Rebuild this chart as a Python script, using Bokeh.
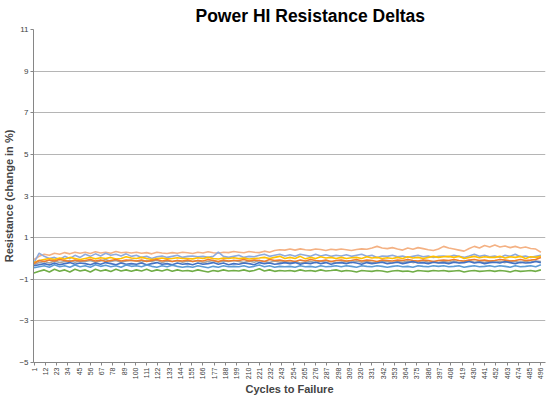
import math
from bokeh.plotting import figure
from bokeh.models import FixedTicker, Range1d
from bokeh.embed import file_html
from bokeh.resources import INLINE

title_text = "Power HI Resistance Deltas"
x_title = "Cycles to Failure"
y_title = "Resistance (change in %)"
cycles = list(range(1, 497, 5))
x_tick_labels = list(range(1, 497, 11))
y_ticks = [-5, -3, -1, 1, 3, 5, 7, 9, 11]

salmon = [-0.05, 0.1, 0.2, 0.15, 0.25, 0.2, 0.28, 0.22, 0.3, 0.25,
          0.3, 0.24, 0.32, 0.26, 0.3, 0.25, 0.33, 0.27, 0.3, 0.26,
          0.3, 0.25, 0.28, 0.22, 0.3, 0.26, 0.24, 0.28, 0.25, 0.3,
          0.27, 0.24, 0.3, 0.26, 0.32, 0.27, 0.25, 0.3, 0.28, 0.33,
          0.3, 0.27, 0.33, 0.3, 0.28, 0.35, 0.3, 0.38, 0.42, 0.4,
          0.45, 0.4, 0.46, 0.42, 0.4, 0.45, 0.43, 0.38, 0.44, 0.41,
          0.45, 0.42, 0.38, 0.43, 0.46, 0.44, 0.5, 0.58, 0.5, 0.47,
          0.52, 0.45, 0.4, 0.5, 0.44, 0.52, 0.47, 0.42, 0.38, 0.45,
          0.58, 0.5, 0.45, 0.4, 0.35, 0.48, 0.58, 0.5, 0.62, 0.55,
          0.65, 0.55, 0.6, 0.52, 0.58, 0.5, 0.55, 0.48, 0.45, 0.3]
periwinkle = [-0.2, 0.25, 0.1, 0.0, 0.05, -0.05, 0.1, 0.0, 0.15, 0.05,
              0.2, 0.1, 0.22, 0.12, 0.25, 0.15, 0.2, 0.12, 0.22, 0.1,
              0.15, 0.05, 0.1, 0.0, 0.08, 0.12, 0.05, 0.1, 0.15, 0.05,
              0.1, 0.12, 0.08, 0.1, 0.05, 0.1, 0.3, 0.1, 0.05, 0.1,
              0.15, 0.05, 0.1, 0.08, 0.15, 0.2, 0.1, 0.15, 0.2, 0.12,
              0.18, 0.1, 0.2, 0.15, 0.1, 0.2, 0.12, 0.18, 0.1, 0.15,
              0.12, 0.18, 0.1, 0.15, 0.2, 0.1, 0.15, 0.05, 0.12, 0.1,
              0.15, 0.08, 0.12, 0.05, 0.1, 0.15, 0.08, 0.12, 0.05, 0.1,
              0.12, 0.08, 0.15, 0.1, 0.05, 0.12, 0.2, 0.1, 0.15, 0.08,
              0.12, 0.05, 0.15, 0.1, 0.2, 0.08, 0.12, 0.05, 0.1, 0.15]
gold = [-0.2, -0.1, -0.05, 0.0, -0.05, 0.02, -0.03, 0.05, 0.0, -0.05,
        0.0, 0.05, -0.02, 0.03, 0.0, 0.05, -0.03, 0.0, 0.08, 0.02,
        0.0, 0.05, 0.0, -0.05, 0.0, 0.02, -0.02, 0.0, 0.03, 0.0,
        0.0, -0.02, 0.03, 0.0, 0.05, 0.0, -0.03, 0.02, 0.0, 0.03,
        0.0, 0.02, -0.03, 0.0, 0.02, 0.05, 0.0, 0.05, 0.1, 0.0,
        0.05, 0.0, 0.1, -0.02, 0.05, 0.0, 0.08, 0.02, 0.05, 0.0,
        0.05, 0.0, 0.03, 0.05, 0.0, 0.08, 0.02, 0.05, 0.0, 0.03,
        0.0, 0.05, 0.0, 0.08, 0.02, 0.05, 0.0, 0.05, 0.1, 0.05,
        0.08, 0.1, 0.05, 0.1, 0.0, 0.05, 0.1, 0.03, 0.08, 0.05,
        0.05, 0.1, 0.02, 0.08, 0.05, 0.1, 0.0, 0.08, 0.05, 0.1]
orange = [-0.25, -0.1, -0.15, -0.08, -0.12, -0.05, -0.1, -0.15, -0.08, -0.12,
          -0.1, -0.05, -0.12, -0.08, -0.15, -0.1, -0.05, -0.12, -0.08, -0.1,
          -0.12, -0.08, -0.15, -0.1, -0.05, -0.12, -0.08, -0.15, -0.1, -0.12,
          -0.08, -0.15, -0.1, -0.12, -0.05, -0.1, -0.15, -0.08, -0.12, -0.1,
          -0.1, -0.05, -0.12, -0.08, -0.1, -0.15, -0.05, -0.1, -0.08, -0.12,
          -0.1, -0.15, -0.08, -0.12, -0.05, -0.1, -0.12, -0.08, -0.15, -0.1,
          -0.08, -0.12, -0.1, -0.05, -0.12, -0.08, -0.1, -0.15, -0.08, -0.1,
          -0.12, -0.08, -0.1, -0.05, -0.1, -0.12, -0.08, -0.1, -0.15, -0.1,
          -0.08, -0.1, -0.05, -0.1, -0.12, -0.08, -0.05, -0.1, -0.08, -0.12,
          -0.1, -0.05, -0.08, -0.12, -0.1, -0.05, -0.1, -0.08, -0.05, 0.05]
gray = [-0.3, -0.2, -0.15, -0.22, -0.12, -0.2, -0.15, -0.1, -0.18, -0.12,
        -0.15, -0.1, -0.18, -0.12, -0.05, -0.15, -0.1, -0.18, -0.12, -0.08,
        -0.12, -0.18, -0.1, -0.15, -0.08, -0.2, -0.12, -0.15, -0.1, -0.18,
        -0.12, -0.15, -0.1, -0.2, -0.15, -0.1, -0.18, -0.12, -0.15, -0.1,
        -0.15, -0.2, -0.12, -0.18, -0.1, -0.15, -0.2, -0.12, -0.18, -0.15,
        -0.2, -0.15, -0.22, -0.18, -0.15, -0.2, -0.12, -0.18, -0.15, -0.2,
        -0.18, -0.15, -0.2, -0.12, -0.18, -0.15, -0.2, -0.18, -0.12, -0.15,
        -0.2, -0.15, -0.18, -0.12, -0.2, -0.15, -0.1, -0.18, -0.15, -0.2,
        -0.15, -0.18, -0.12, -0.2, -0.15, -0.1, -0.18, -0.15, -0.2, -0.12,
        -0.18, -0.15, -0.2, -0.12, -0.15, -0.2, -0.15, -0.18, -0.12, -0.15]
dark_blue = [-0.35, -0.3, -0.25, -0.32, -0.22, -0.3, -0.25, -0.2, -0.28, -0.22,
             -0.25, -0.3, -0.22, -0.28, -0.2, -0.25, -0.3, -0.22, -0.28, -0.25,
             -0.28, -0.22, -0.3, -0.25, -0.2, -0.28, -0.25, -0.3, -0.22, -0.28,
             -0.25, -0.3, -0.22, -0.28, -0.25, -0.2, -0.28, -0.22, -0.3, -0.25,
             -0.28, -0.22, -0.25, -0.3, -0.2, -0.25, -0.22, -0.28, -0.25, -0.2,
             -0.25, -0.2, -0.28, -0.22, -0.25, -0.18, -0.25, -0.2, -0.28, -0.22,
             -0.2, -0.25, -0.18, -0.22, -0.28, -0.2, -0.25, -0.22, -0.18, -0.25,
             -0.22, -0.18, -0.25, -0.2, -0.15, -0.22, -0.2, -0.25, -0.18, -0.22,
             -0.2, -0.25, -0.18, -0.22, -0.2, -0.15, -0.22, -0.18, -0.25, -0.2,
             -0.18, -0.22, -0.15, -0.2, -0.25, -0.18, -0.22, -0.2, -0.15, -0.2]
blue = [-0.45, -0.4, -0.35, -0.42, -0.3, -0.4, -0.35, -0.42, -0.32, -0.4,
        -0.35, -0.42, -0.3, -0.38, -0.33, -0.4, -0.35, -0.42, -0.32, -0.38,
        -0.35, -0.4, -0.32, -0.38, -0.42, -0.35, -0.4, -0.33, -0.38, -0.42,
        -0.38, -0.42, -0.35, -0.4, -0.45, -0.38, -0.42, -0.35, -0.4, -0.38,
        -0.4, -0.35, -0.42, -0.38, -0.32, -0.4, -0.35, -0.42, -0.38, -0.4,
        -0.38, -0.42, -0.35, -0.4, -0.38, -0.42, -0.35, -0.4, -0.38, -0.35,
        -0.4, -0.35, -0.38, -0.42, -0.35, -0.38, -0.4, -0.35, -0.38, -0.42,
        -0.38, -0.35, -0.4, -0.38, -0.42, -0.35, -0.38, -0.4, -0.35, -0.38,
        -0.35, -0.4, -0.38, -0.35, -0.42, -0.38, -0.35, -0.4, -0.38, -0.35,
        -0.4, -0.35, -0.38, -0.42, -0.35, -0.4, -0.38, -0.35, -0.4, -0.3]
green = [-0.7, -0.62, -0.55, -0.65, -0.52, -0.62, -0.55, -0.65, -0.52, -0.6,
         -0.55, -0.65, -0.52, -0.6, -0.55, -0.63, -0.52, -0.6, -0.55, -0.62,
         -0.55, -0.6, -0.52, -0.62, -0.55, -0.6, -0.53, -0.62, -0.55, -0.6,
         -0.58, -0.62, -0.55, -0.6, -0.65, -0.58, -0.62, -0.55, -0.6, -0.58,
         -0.6, -0.55, -0.62, -0.58, -0.5, -0.6, -0.55, -0.62, -0.58, -0.6,
         -0.58, -0.62, -0.55, -0.6, -0.58, -0.62, -0.55, -0.6, -0.58, -0.55,
         -0.62, -0.58, -0.6, -0.65, -0.58, -0.6, -0.62, -0.58, -0.6, -0.65,
         -0.6, -0.58, -0.62, -0.6, -0.65, -0.58, -0.6, -0.62, -0.58, -0.6,
         -0.58, -0.62, -0.6, -0.58, -0.65, -0.6, -0.58, -0.62, -0.6, -0.58,
         -0.62, -0.58, -0.6, -0.65, -0.58, -0.62, -0.6, -0.58, -0.62, -0.55]

series = [
    (salmon, "#F4B183"),
    (periwinkle, "#8FAADC"),
    (gray, "#A5A5A5"),
    (gold, "#FFC000"),
    (orange, "#ED7D31"),
    (dark_blue, "#4472C4"),
    (blue, "#5B9BD5"),
    (green, "#70AD47"),
]

FONT = "Liberation Sans"

p = figure(frame_width=512, frame_height=333, output_backend="svg", toolbar_location=None,
           x_range=Range1d(0.5, 500.5), y_range=Range1d(-5, 11),
           min_border_left=0, min_border_right=5, min_border_top=0, min_border_bottom=0)

p.title.text = title_text
p.title.text_font = FONT
p.title.text_font_size = "17.5px"
p.title.text_font_style = "bold"
p.title.align = "left"
p.title.offset = 162
p.title.standoff = 7
p.title.text_color = "#000000"

for vals, col in series:
    p.line(cycles, vals, line_color=col, line_width=1.6)

p.outline_line_color = None
p.xgrid.grid_line_color = None
p.ygrid.grid_line_color = "#B5B5B5"
p.ygrid.grid_line_width = 1
p.ygrid.ticker = FixedTicker(ticks=y_ticks)

p.yaxis.ticker = FixedTicker(ticks=y_ticks)
p.yaxis.axis_label = y_title
p.yaxis.axis_label_text_font = FONT
p.yaxis.axis_label_text_font_size = "11px"
p.yaxis.axis_label_text_font_style = "bold"
p.yaxis.axis_label_standoff = 1
p.yaxis.major_label_text_font = FONT
p.yaxis.major_label_text_font_size = "8px"
p.yaxis.major_label_text_color = "#404040"
p.yaxis.axis_line_color = "#868686"
p.yaxis.major_tick_line_color = "#868686"
p.yaxis.major_tick_out = 3
p.yaxis.major_tick_in = 0
p.yaxis.minor_tick_line_color = None
p.yaxis.major_label_standoff = 2

p.xaxis.ticker = FixedTicker(ticks=x_tick_labels)
p.xaxis.axis_label = x_title
p.xaxis.axis_label_text_font = FONT
p.xaxis.axis_label_text_font_size = "11px"
p.xaxis.axis_label_text_font_style = "bold"
p.xaxis.axis_label_standoff = 1
p.xaxis.major_label_text_font = FONT
p.xaxis.major_label_text_font_size = "7px"
p.xaxis.major_label_text_color = "#404040"
p.xaxis.major_label_orientation = math.pi / 2
p.xaxis.major_label_standoff = 2
p.xaxis.axis_line_color = "#868686"
p.xaxis.major_tick_line_color = "#868686"
p.xaxis.major_tick_out = 3
p.xaxis.major_tick_in = 0
p.xaxis.minor_tick_line_color = None

open("out.html", "w").write(file_html(p, INLINE))
